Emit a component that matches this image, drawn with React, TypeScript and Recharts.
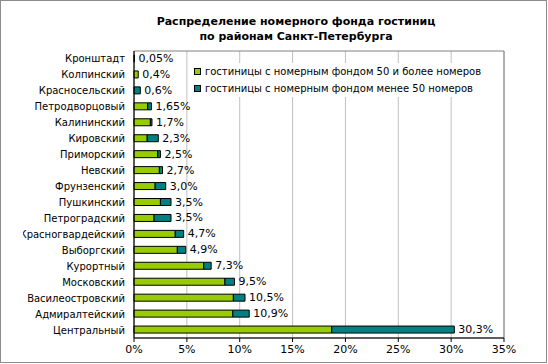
import React from "react";
import { BarChart, Bar, XAxis, YAxis, CartesianGrid, Legend, LabelList, ReferenceArea } from "recharts";

const districts = [
  "Кронштадт",
  "Колпинский",
  "Красносельский",
  "Петродворцовый",
  "Калининский",
  "Кировский",
  "Приморский",
  "Невский",
  "Фрунзенский",
  "Пушкинский",
  "Петроградский",
  "Красногвардейский",
  "Выборгский",
  "Курортный",
  "Московский",
  "Василеостровский",
  "Адмиралтейский",
  "Центральный",
];
// share of rooms, %, hotels with 50+ rooms
const largeHotels = [0.05, 0.4, 0, 1.3, 1.55, 1.25, 2.25, 2.4, 2.0, 2.5, 1.9, 3.9, 4.1, 6.6, 8.6, 9.4, 9.35, 18.7];
// hotels with fewer than 50 rooms
const smallHotels = [0, 0, 0.6, 0.35, 0.15, 1.05, 0.25, 0.3, 1.0, 1.0, 1.6, 0.8, 0.8, 0.7, 0.9, 1.1, 1.55, 11.6];
const totals = [0.05, 0.4, 0.6, 1.65, 1.7, 2.3, 2.5, 2.7, 3.0, 3.5, 3.5, 4.7, 4.9, 7.3, 9.5, 10.5, 10.9, 30.3];
const xTicks = [0, 5, 10, 15, 20, 25, 30, 35];
const seriesNames = [
  "гостиницы с номерным фондом 50 и более номеров",
  "гостиницы с номерным фондом менее 50 номеров",
];
const colors = ["#99cc00", "#008080"];

const data = districts.map((name, i) => ({
  name,
  large: largeHotels[i],
  small: smallHotels[i],
  total: totals[i],
}));

const font = "'DejaVu Sans', Verdana, sans-serif";

const fmt = (v: number) => {
  const digits = Math.round(v * 100) % 10 ? 2 : 1;
  return v.toFixed(digits).replace(".", ",") + "%";
};

// labels get cut at the left like in the original
const DistrictTick = (props: any) => {
  const { x, y, payload } = props;
  const left = 23;
  return (
    <svg x={left} y={y - 8} width={Math.max(0, x - left + 2)} height={16} overflow="hidden">
      <text x={x - left} y={8} textAnchor="end" dominantBaseline="central" fontSize={10} fontFamily={font} fill="#000">
        {payload.value}
      </text>
    </svg>
  );
};

const TotalLabel = (props: any) => {
  const { x, y, width, height, value } = props;
  return (
    <text x={x + width + 4} y={y + height / 2} dominantBaseline="central" fontSize={11} fontFamily={font} fill="#000">
      {fmt(value)}
    </text>
  );
};

const renderLegend = () => (
  <div style={{ background: "#fff", fontFamily: font, fontSize: 10, color: "#000", paddingLeft: 4 }}>
    {seriesNames.map((n, i) => (
      <div key={n} style={{ display: "flex", alignItems: "center", height: 17, whiteSpace: "nowrap" }}>
        <span
          style={{
            display: "inline-block",
            width: 5,
            height: 5,
            border: "1px solid #000",
            background: colors[i],
            marginRight: 4,
          }}
        />
        {n}
      </div>
    ))}
  </div>
);

export default function App() {
  return (
    <div style={{ position: "absolute", left: 0, top: 0, width: 548, height: 364, background: "#fff" }}>
      <div
        style={{
          position: "absolute",
          left: 0,
          top: 0,
          width: 547,
          height: 363,
          border: "1px solid #8c8c8c",
          boxSizing: "border-box",
          pointerEvents: "none",
        }}
      />
      <div
        style={{
          position: "absolute",
          left: 0,
          top: 14,
          width: 592,
          textAlign: "center",
          fontFamily: font,
          fontWeight: "bold",
          fontSize: 11,
          lineHeight: "15px",
          color: "#000",
        }}
      >
        Распределение номерного фонда гостиниц
        <br />
        по районам Санкт-Петербурга
      </div>
      <BarChart
        width={548}
        height={364}
        data={data}
        layout="vertical"
        margin={{ top: 51, right: 44, bottom: 6, left: 0 }}
        barSize={7}
      >
        <CartesianGrid horizontal={false} stroke="#c0c0c0" />
        <ReferenceArea x1={0} x2={35} fill="none" stroke="#808080" ifOverflow="visible" />
        <XAxis
          type="number"
          domain={[0, 35]}
          ticks={xTicks}
          tickFormatter={(v) => `${v}%`}
          height={20}
          tickSize={4}
          tickMargin={3}
          axisLine={{ stroke: "#000" }}
          tickLine={{ stroke: "#000" }}
          tick={{ fontSize: 11, fontFamily: font, fill: "#000" }}
          interval={0}
        />
        <YAxis
          type="category"
          dataKey="name"
          width={134}
          tickLine={false}
          tickSize={6}
          tickMargin={3}
          axisLine={{ stroke: "#000" }}
          tick={<DistrictTick />}
          interval={0}
        />
        <YAxis yAxisId="lbl" type="category" dataKey="name" hide />
        <Legend
          layout="horizontal"
          verticalAlign="middle"
          align="center"
          content={renderLegend}
          wrapperStyle={{ position: "absolute", left: 190, top: 63, width: 312, height: 36 }}
        />
        <Bar dataKey="large" stackId="a" name={seriesNames[0]} fill={colors[0]} stroke="#000" strokeWidth={1} isAnimationActive={false} />
        <Bar dataKey="small" stackId="a" name={seriesNames[1]} fill={colors[1]} stroke="#000" strokeWidth={1} isAnimationActive={false} />
        {/* invisible total bar, only carries the value labels */}
        <Bar dataKey="total" yAxisId="lbl" fill="none" stroke="none" legendType="none" isAnimationActive={false}>
          <LabelList dataKey="total" content={<TotalLabel />} />
        </Bar>
      </BarChart>
    </div>
  );
}
